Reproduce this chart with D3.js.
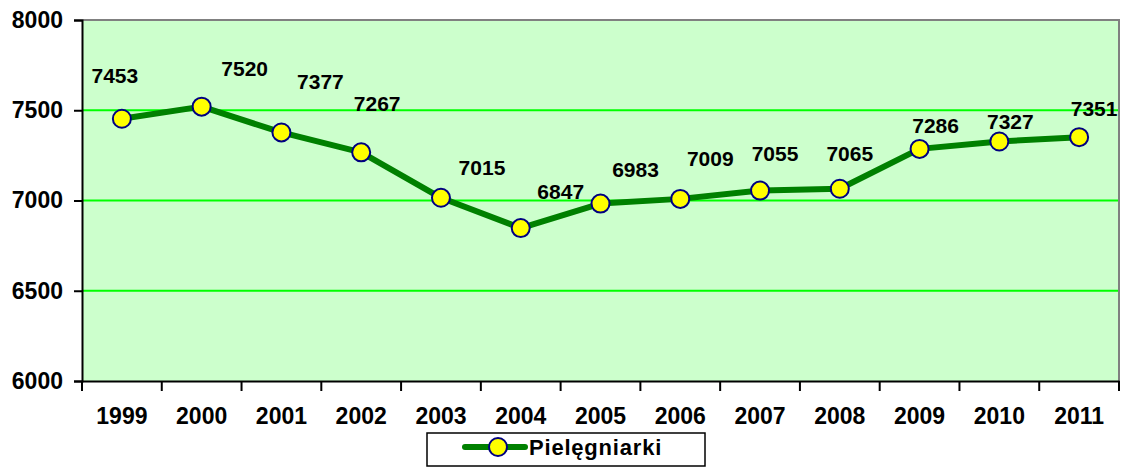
<!DOCTYPE html>
<html>
<head>
<meta charset="utf-8">
<script src="https://cdn.jsdelivr.net/npm/d3@7"></script>
<style>
  body { margin: 0; background: #fff; }
  text { font-family: "Liberation Sans", Arial, sans-serif; font-weight: bold; fill: #000; }
</style>
</head>
<body>
<svg id="chart" width="1127" height="468"></svg>
<script>
// chart data
const years = ['1999', '2000', '2001', '2002', '2003', '2004', '2005',
               '2006', '2007', '2008', '2009', '2010', '2011'];
const nurses = [7453, 7520, 7377, 7267, 7015, 6847, 6983,
                7009, 7055, 7065, 7286, 7327, 7351];
const yTicks = [6000, 6500, 7000, 7500, 8000];
const seriesName = 'Pielęgniarki';

// hand-placed data label offsets (px from the marker), like in the original
const labelOffsets = [
  [-7, -43], [43, -38], [39, -51], [16, -49], [41, -30], [40, -36], [35, -34],
  [30, -40], [15, -37], [10, -35], [16, -23], [11, -20], [15, -28]
];

const margin = { top: 20, right: 8, bottom: 87, left: 82 };
const width = 1127;
const height = 468;

const svg = d3.select('#chart');

const x = d3.scaleBand()
            .domain(years)
            .range([margin.left, width - margin.right]);

const y = d3.scaleLinear()
            .domain([6000, 8000])
            .range([height - margin.bottom, margin.top]);

// plot background
svg.append('rect')
   .attr('x', margin.left)
   .attr('y', margin.top)
   .attr('width', x.range()[1] - margin.left)
   .attr('height', y(6000) - margin.top)
   .attr('fill', '#ccffcc');

// gridlines
svg.append('g')
   .selectAll('line')
   .data(yTicks.filter(d => d > 6000 && d < 8000))
   .enter()
   .append('line')
   .attr('x1', margin.left)
   .attr('x2', x.range()[1])
   .attr('y1', d => y(d))
   .attr('y2', d => y(d))
   .attr('stroke', '#00ff00')
   .attr('stroke-width', 2);

// grey frame top and right
svg.append('path')
   .attr('d', `M${margin.left},${y(8000)}H${x.range()[1]}V${y(6000)}`)
   .attr('fill', 'none')
   .attr('stroke', '#808080')
   .attr('stroke-width', 2);

// y axis
const yAxis = d3.axisLeft(y)
                .tickValues(yTicks)
                .tickSize(8)
                .tickPadding(11)
                .tickFormat(d3.format('d'));

const yGroup = svg.append('g')
                  .attr('transform', translate(margin.left, 0))
                  .call(yAxis);
yGroup.selectAll('text').style('font-size', '23px');

// x axis, ticks between categories
const xAxis = d3.axisBottom(x).tickSize(0).tickPadding(27);
const xGroup = svg.append('g')
                  .attr('transform', translate(0, y(6000)))
                  .call(xAxis);
xGroup.selectAll('text').style('font-size', '23px');

xGroup.selectAll('.between')
      .data(years.concat(['end']))
      .enter()
      .append('line')
      .attr('x1', (d, i) => margin.left + i * x.bandwidth())
      .attr('x2', (d, i) => margin.left + i * x.bandwidth())
      .attr('y1', 0)
      .attr('y2', 10)
      .attr('stroke', '#000')
      .attr('stroke-width', 2);

svg.selectAll('.domain')
   .attr('stroke', '#000')
   .attr('stroke-width', 2);
svg.selectAll('.tick line')
   .attr('stroke', '#000')
   .attr('stroke-width', 2);

// series line
const line = d3.line()
               .x((d, i) => x(years[i]) + x.bandwidth() / 2)
               .y(d => y(d));

svg.append('path')
   .datum(nurses)
   .attr('d', line)
   .attr('fill', 'none')
   .attr('stroke', '#008000')
   .attr('stroke-width', 6)
   .attr('stroke-linejoin', 'round');

svg.append('g')
   .selectAll('circle')
   .data(nurses)
   .enter()
   .append('circle')
   .attr('cx', (d, i) => x(years[i]) + x.bandwidth() / 2)
   .attr('cy', d => y(d))
   .attr('r', 9)
   .attr('fill', '#ffff00')
   .attr('stroke', '#000080')
   .attr('stroke-width', 2);

// data labels
svg.append('g')
   .selectAll('text')
   .data(nurses)
   .enter()
   .append('text')
   .attr('x', (d, i) => x(years[i]) + x.bandwidth() / 2 + labelOffsets[i][0])
   .attr('y', (d, i) => y(d) + labelOffsets[i][1])
   .attr('dy', '0.35em')
   .attr('text-anchor', 'middle')
   .style('font-size', '21px')
   .text(d => d);

// legend
const legend = svg.append('g').attr('transform', translate(427, 433));
legend.append('rect')
      .attr('width', 278)
      .attr('height', 33)
      .attr('fill', '#fff')
      .attr('stroke', '#000')
      .attr('stroke-width', 1.5);
legend.append('line')
      .attr('x1', 38).attr('x2', 98)
      .attr('y1', 14).attr('y2', 14)
      .attr('stroke', '#008000')
      .attr('stroke-width', 6)
      .attr('stroke-linecap', 'round');
legend.append('circle')
      .attr('cx', 71).attr('cy', 14).attr('r', 9)
      .attr('fill', '#ffff00')
      .attr('stroke', '#000080')
      .attr('stroke-width', 2);
legend.append('text')
      .attr('x', 102)
      .attr('y', 14)
      .attr('dy', '0.35em')
      .style('font-size', '22px')
      .style('letter-spacing', '0.8px')
      .text(seriesName);

function translate(x, y) {
  return 'translate(' + String(x) + ',' + String(y) + ')';
}
</script>
</body>
</html>
